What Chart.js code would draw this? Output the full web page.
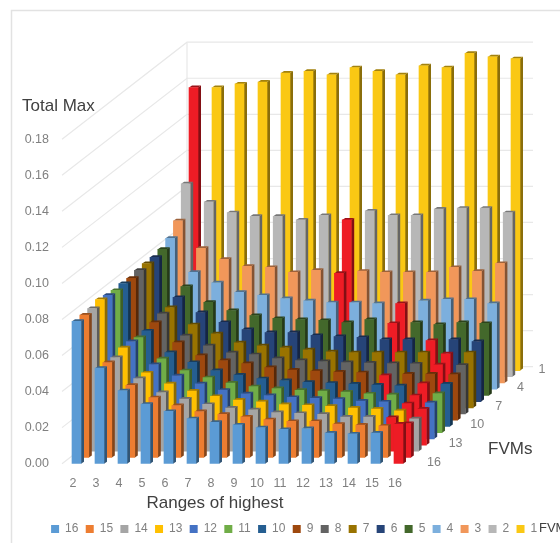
<!DOCTYPE html>
<html>
<head>
<meta charset="utf-8">
<style>
  html, body { margin: 0; padding: 0; background: #fff; }
  #wrap { width: 560px; height: 543px; position: relative; overflow: hidden; }
  canvas { filter: blur(0.45px); }
</style>
<script src="https://cdn.jsdelivr.net/npm/chart.js@4"></script>
</head>
<body>
<div id="wrap"><canvas id="chart" width="560" height="543"></canvas></div>
<script>
const categories = [2, 3, 4, 5, 6, 7, 8, 9, 10, 11, 12, 13, 14, 15, 16];
const fvmLabels = [16, 15, 14, 13, 12, 11, 10, 9, 8, 7, 6, 5, 4, 3, 2, 1];
const yTicks = [0, 0.02, 0.04, 0.06, 0.08, 0.10, 0.12, 0.14, 0.16, 0.18];
const depthTicks = [1, 4, 7, 10, 13, 16];

const fvm16 = [0.079, 0.053, 0.0405, 0.033, 0.029, 0.025, 0.023, 0.0215, 0.02, 0.019, 0.0195, 0.017, 0.0165, 0.017, 0.022];
const fvm15 = [0.079, 0.0527, 0.04, 0.0332, 0.0288, 0.0255, 0.024, 0.0225, 0.021, 0.02, 0.02, 0.0185, 0.018, 0.0175, 0.0188];
const fvm14 = [0.0792, 0.052, 0.0403, 0.0326, 0.029, 0.026, 0.024, 0.023, 0.0215, 0.021, 0.0205, 0.019, 0.019, 0.0187, 0.018];
const fvm13 = [0.0807, 0.054, 0.04, 0.034, 0.03, 0.027, 0.025, 0.024, 0.0225, 0.022, 0.0215, 0.0205, 0.02, 0.019, 0.02];
const fvm12 = [0.0796, 0.054, 0.0412, 0.035, 0.0305, 0.027, 0.025, 0.024, 0.023, 0.0225, 0.022, 0.021, 0.0205, 0.0195, 0.02];
const fvm11 = [0.0789, 0.0528, 0.041, 0.0344, 0.0305, 0.0275, 0.0255, 0.0245, 0.0235, 0.023, 0.0225, 0.0215, 0.021, 0.0205, 0.0217];
const fvm10 = [0.0793, 0.053, 0.041, 0.0355, 0.031, 0.0285, 0.0265, 0.0255, 0.0245, 0.024, 0.0235, 0.023, 0.0225, 0.0238, 0.0235];
const fvm9 = [0.0787, 0.0542, 0.0431, 0.0359, 0.0331, 0.0314, 0.0292, 0.0278, 0.0272, 0.0267, 0.0264, 0.0248, 0.0256, 0.0256, 0.0253];
const fvm8 = [0.0797, 0.0556, 0.0434, 0.0378, 0.034, 0.0329, 0.0308, 0.0297, 0.0291, 0.0286, 0.0283, 0.028, 0.0278, 0.0273, 0.027];
const fvm7 = [0.08, 0.0556, 0.0461, 0.0411, 0.0361, 0.0344, 0.0333, 0.0322, 0.0311, 0.0306, 0.0306, 0.0306, 0.0306, 0.03, 0.0306];
const fvm6 = [0.08, 0.0578, 0.0494, 0.0439, 0.04, 0.0383, 0.0383, 0.0367, 0.0361, 0.0356, 0.0344, 0.0344, 0.0339, 0.0344, 0.0333];
const fvm5 = [0.081, 0.0604, 0.0516, 0.0471, 0.0443, 0.0427, 0.0421, 0.0416, 0.0404, 0.0421, 0.0399, 0.0404, 0.0393, 0.0404, 0.0399];
const fvm4 = [0.0837, 0.0648, 0.059, 0.0537, 0.052, 0.0503, 0.049, 0.048, 0.048, 0.0475, 0.0475, 0.049, 0.0498, 0.0498, 0.0475];
const fvm3 = [0.09, 0.0747, 0.0686, 0.0647, 0.0641, 0.0613, 0.0625, 0.0608, 0.062, 0.0613, 0.0613, 0.0613, 0.0641, 0.0619, 0.0663];
const fvm2 = [0.107, 0.097, 0.091, 0.089, 0.089, 0.087, 0.0895, 0.087, 0.092, 0.0895, 0.0895, 0.093, 0.0935, 0.0935, 0.091];
const fvm1 = [0.157, 0.157, 0.159, 0.16, 0.165, 0.166, 0.164, 0.168, 0.166, 0.164, 0.169, 0.168, 0.176, 0.174, 0.173];
const seriesValues = [fvm16, fvm15, fvm14, fvm13, fvm12, fvm11, fvm10, fvm9, fvm8, fvm7, fvm6, fvm5, fvm4, fvm3, fvm2, fvm1];

// the category painted red in each row, same order as fvmLabels
const redCategory = [16, 16, 15, 16, 15, 15, 15, 13, 15, 15, 14, 12, 12, 9, 9, 2];

const COLORS = ['#5b9bd5', '#ed7d31', '#a5a5a5', '#ffc000', '#4472c4', '#70ad47', '#255e91', '#9e480e',
                '#636363', '#997300', '#264478', '#43682b', '#7cafdd', '#f1975a', '#b7b7b7', '#fac814'];
const RED = '#ee1c25';

// oblique depth: how far each row moves back, in axis units
const STEP_X = 7.8 / 23;
const STEP_Y = 6.2 / 1800;
const BAR_SHIFT = 3.5 / 23;
const SIDE_W = 3, SIDE_H = 2;
const FONT = '"Liberation Sans", Arial, sans-serif';

function shade(hex, f) {
    const n = parseInt(hex.slice(1), 16);
    const ch = s => Math.round(((n >> s) & 255) * f);
    return `rgb(${ch(16)},${ch(8)},${ch(0)})`;
}

const datasets = fvmLabels.map((fvm, i) => ({
    label: String(fvm),
    data: categories.map((c, j) => ({
        x: c + BAR_SHIFT + i * STEP_X,
        y: [i * STEP_Y, i * STEP_Y + seriesValues[i][j]],
    })),
    backgroundColor: ctx => categories[ctx.dataIndex] === redCategory[i] ? RED : COLORS[i],
    borderWidth: 0,
    barThickness: 9,
    grouped: false,
}));

// walls: diagonal lines from the axis to the back, then along the back wall
const wallsPlugin = {
    id: 'walls',
    beforeDatasetsDraw(chart) {
        const { ctx, scales: { x, y } } = chart;
        const frontX = x.left + 12, backX = frontX + 125, endX = 533, backDy = 97;
        ctx.save();
        ctx.strokeStyle = '#e8e8e8';
        ctx.lineWidth = 1.2;
        yTicks.forEach(t => {
            const py = y.getPixelForValue(t);
            ctx.beginPath();
            ctx.moveTo(frontX, py);
            ctx.lineTo(backX, py - backDy);
            ctx.lineTo(endX, py - backDy);
            ctx.stroke();
        });
        ctx.beginPath();
        ctx.moveTo(backX, y.getPixelForValue(0.18) - backDy);
        ctx.lineTo(backX, y.getPixelForValue(0) - backDy);
        ctx.stroke();
        ctx.restore();
    },
};

// side and top faces of each bar, drawn just before its row
const facesPlugin = {
    id: 'faces',
    afterLayout(chart) {
        chart.legend.top += 2;
    },
    beforeDatasetDraw(chart, args) {
        const { ctx } = chart;
        const i = args.index;
        args.meta.data.forEach((bar, j) => {
            const col = categories[j] === redCategory[i] ? RED : COLORS[i];
            const r = bar.x + bar.width / 2, l = bar.x - bar.width / 2;
            ctx.fillStyle = shade(col, 0.55);
            ctx.beginPath();
            ctx.moveTo(r, bar.base);
            ctx.lineTo(r + SIDE_W, bar.base - SIDE_H);
            ctx.lineTo(r + SIDE_W, bar.y - SIDE_H);
            ctx.lineTo(r, bar.y);
            ctx.fill();
            ctx.fillStyle = shade(col, 0.65);
            ctx.beginPath();
            ctx.moveTo(l, bar.y);
            ctx.lineTo(l + SIDE_W, bar.y - SIDE_H);
            ctx.lineTo(r + SIDE_W, bar.y - SIDE_H);
            ctx.lineTo(r, bar.y);
            ctx.fill();
        });
    },
};

// frame, axis titles and the depth axis labels
const textPlugin = {
    id: 'texts',
    afterDraw(chart) {
        const { ctx, scales: { x, y } } = chart;
        ctx.save();
        ctx.strokeStyle = '#e2e2e2';
        ctx.lineWidth = 1.5;
        ctx.beginPath();
        ctx.moveTo(11.5, 543);
        ctx.lineTo(11.5, 10.5);
        ctx.lineTo(560, 10.5);
        ctx.stroke();

        ctx.textBaseline = 'middle';
        ctx.textAlign = 'left';
        ctx.fillStyle = '#404040';
        ctx.font = `17px ${FONT}`;
        ctx.fillText('Total Max', 22, 106);
        ctx.fillText('FVMs', 488, 449);
        ctx.textAlign = 'center';
        ctx.fillText('Ranges of highest', 215, 503);
        ctx.textAlign = 'left';
        ctx.font = `13px ${FONT}`;
        ctx.fillText('FVMs', 539, 528);

        ctx.textAlign = 'center';
        ctx.font = `12.5px ${FONT}`;
        ctx.fillStyle = '#808080';
        depthTicks.forEach(f => {
            const depth = fvmLabels.indexOf(f);
            ctx.fillText(String(f), x.getPixelForValue(16) + 39 + depth * 7.2, y.getPixelForValue(depth * STEP_Y) - 1.5);
        });
        ctx.restore();
    },
};

new Chart(document.getElementById('chart'), {
    type: 'bar',
    data: { datasets },
    plugins: [wallsPlugin, facesPlugin, textPlugin],
    options: {
        responsive: false,
        animation: false,
        layout: { padding: { top: 31, right: 15.5, left: 0, bottom: 0 } },
        plugins: {
            tooltip: { enabled: false },
            legend: {
                position: 'bottom',
                align: 'end',
                labels: {
                    boxWidth: 8,
                    boxHeight: 8,
                    padding: 7.3,
                    color: '#808080',
                    font: { family: FONT, size: 12 },
                    generateLabels: chart => Chart.defaults.plugins.legend.labels.generateLabels(chart)
                        .map((item, i) => ({ ...item, fillStyle: COLORS[i] })),
                },
            },
        },
        scales: {
            x: {
                type: 'linear',
                offset: false,
                min: 1,
                max: 22.5,
                afterFit: s => { s.height = 50; },
                grid: { display: false, drawTicks: false },
                border: { display: false },
                ticks: {
                    stepSize: 1,
                    autoSkip: false,
                    maxRotation: 0,
                    padding: 12,
                    color: '#808080',
                    font: { family: FONT, size: 12.5 },
                    callback: v => categories.includes(v) ? String(v) : null,
                },
            },
            y: {
                type: 'linear',
                min: 0,
                max: 0.24,
                afterFit: s => { s.width = 50; },
                grid: { display: false, drawTicks: false },
                border: { display: false },
                ticks: {
                    stepSize: 0.02,
                    padding: 1,
                    color: '#808080',
                    font: { family: FONT, size: 12.5 },
                    callback: v => v < 0.19 ? v.toFixed(2) : null,
                },
            },
        },
    },
});
</script>
</body>
</html>
